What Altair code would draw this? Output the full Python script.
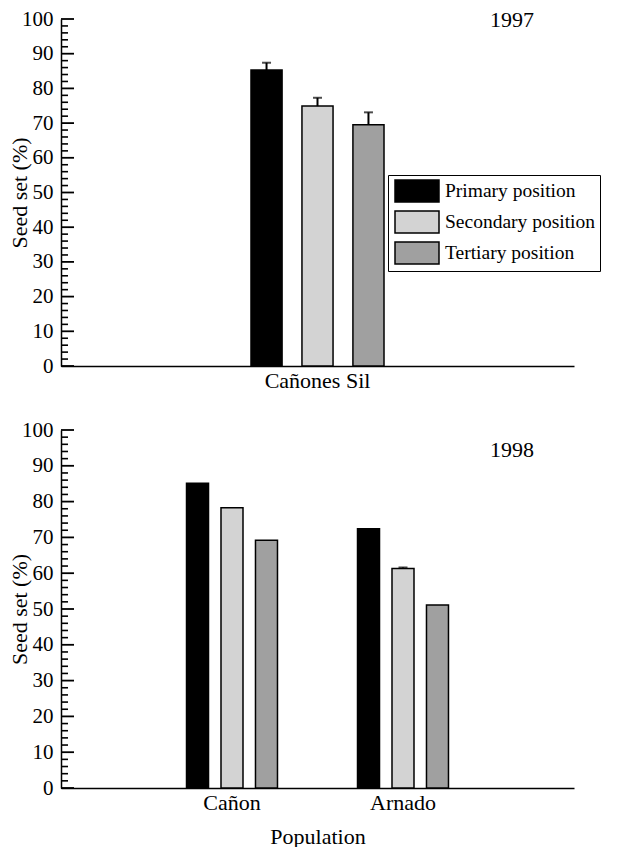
import altair as alt
import pandas as pd

positions = ["Primary position", "Secondary position", "Tertiary position"]
colors = ["#000000", "#d3d3d3", "#a0a0a0"]

top_year = ["1997"]
top_pops = ["Cañones Sil"]
top_values = [85.3, 74.9, 69.5]
top_err = [2.1, 2.4, 3.6]

bot_year = ["1998"]
bot_pops = ["Cañon", "Arnado"]
bot_values = {"Cañon": [85.1, 78.3, 69.2], "Arnado": [72.4, 61.3, 51.1]}
bot_err = {"Cañon": [0.0, 0.0, 0.0], "Arnado": [0.0, 0.3, 0.0]}

major_ticks = list(range(0, 101, 10))
minor_ticks = [v for v in range(0, 101, 2) if v % 10 != 0]

FONT = "Liberation Serif"

top_df = pd.DataFrame({
    "pop": top_pops * 3,
    "position": positions,
    "value": top_values,
    "err": top_err,
})
top_df["upper"] = top_df["value"] + top_df["err"]

rows = []
for p in bot_pops:
    for i, pos in enumerate(positions):
        rows.append({"pop": p, "position": pos, "value": bot_values[p][i], "err": bot_err[p][i]})
bot_df = pd.DataFrame(rows)
bot_df["upper"] = bot_df["value"] + bot_df["err"]

maj_df = pd.DataFrame({"t": major_ticks})
min_df = pd.DataFrame({"t": minor_ticks})

yscale = alt.Scale(domain=[0, 100], nice=False, zero=True)
yaxis = alt.Axis(title="Seed set (%)", values=major_ticks, ticks=False,
                 labelOverlap=False, labelPadding=8, titlePadding=-10,
                 titleFontSize=22)


def panel(df, pops, year, x_pad_inner, x_pad_outer, off_inner, off_outer, show_legend, x_title, year_y, height):
    xaxis = alt.Axis(title=x_title, labelAngle=0, ticks=False, labelPadding=4,
                     labelFontSize=22, titleFontSize=22, titlePadding=13)
    xscale = alt.Scale(paddingInner=x_pad_inner, paddingOuter=x_pad_outer)
    xenc = alt.X("pop:N", sort=pops, scale=xscale, axis=xaxis)
    xoff = alt.XOffset("position:N", sort=positions,
                       scale=alt.Scale(paddingInner=off_inner, paddingOuter=off_outer))
    legend = None
    if show_legend:
        legend = alt.Legend(title=None, orient="none", legendX=327, legendY=156,
                            strokeColor="black", padding=4, rowPadding=3,
                            symbolType="M-2,-1H2V1H-2Z", symbolSize=484,
                            symbolOffset=13, symbolStrokeColor="black",
                            symbolStrokeWidth=1.5,
                            labelFont=FONT, labelFontSize=19.5, labelColor="black",
                            labelOffset=16)
    color = alt.Color("position:N", sort=positions,
                      scale=alt.Scale(domain=positions, range=colors), legend=legend)

    bars = alt.Chart(df).mark_bar(stroke="black", strokeWidth=1.5).encode(
        x=xenc, xOffset=xoff, y=alt.Y("value:Q", scale=yscale, axis=yaxis), color=color)
    errs = alt.Chart(df).transform_filter("datum.err > 0").mark_rule(
        color="black", strokeWidth=2).encode(
        x=alt.X("pop:N", sort=pops, scale=xscale, axis=xaxis),
        xOffset=xoff,
        y=alt.Y("value:Q", scale=yscale, axis=yaxis), y2="upper:Q")
    caps = alt.Chart(df).transform_filter("datum.err > 0").mark_tick(
        color="black", thickness=2, size=9).encode(
        x=alt.X("pop:N", sort=pops, scale=xscale, axis=xaxis),
        xOffset=xoff,
        y=alt.Y("upper:Q", scale=yscale, axis=yaxis))
    maj = alt.Chart(maj_df).mark_rule(color="black", strokeWidth=1.8).encode(
        x=alt.value(0), x2=alt.value(13), y=alt.Y("t:Q", axis=yaxis))
    mnr = alt.Chart(min_df).mark_rule(color="black", strokeWidth=1.6).encode(
        x=alt.value(0), x2=alt.value(7), y=alt.Y("t:Q", axis=yaxis))
    yr = alt.Chart(pd.DataFrame({"year": year})).mark_text(
        font=FONT, fontSize=22, color="black", baseline="middle", align="center").encode(
        x=alt.value(451), y=alt.value(year_y), text="year:N")
    return alt.layer(bars, errs, caps, maj, mnr, yr).properties(width=513, height=height)


top = panel(top_df, top_pops, top_year, 0.15, 1.0, 0.39, 0.196, True, None, 1, 347)
bot = panel(bot_df, bot_pops, bot_year, 0.395, 0.6975, 0.362, 0.181, False, "Population", 20, 358)

chart = alt.vconcat(top, bot, spacing=28).resolve_scale(
    color="independent", xOffset="independent", x="independent"
).properties(
    padding={"left": 0, "top": 0, "right": 0, "bottom": 0}
).configure_view(stroke=None).configure_axis(
    labelFont=FONT, labelFontSize=21, labelColor="black", labelOverlap=False,
    titleFont=FONT, titleFontSize=21, titleFontWeight="normal", titleColor="black",
    domainColor="black", domainWidth=1.5, grid=False,
)

chart.save("out.html", embed_options={"renderer": "svg", "actions": False})
